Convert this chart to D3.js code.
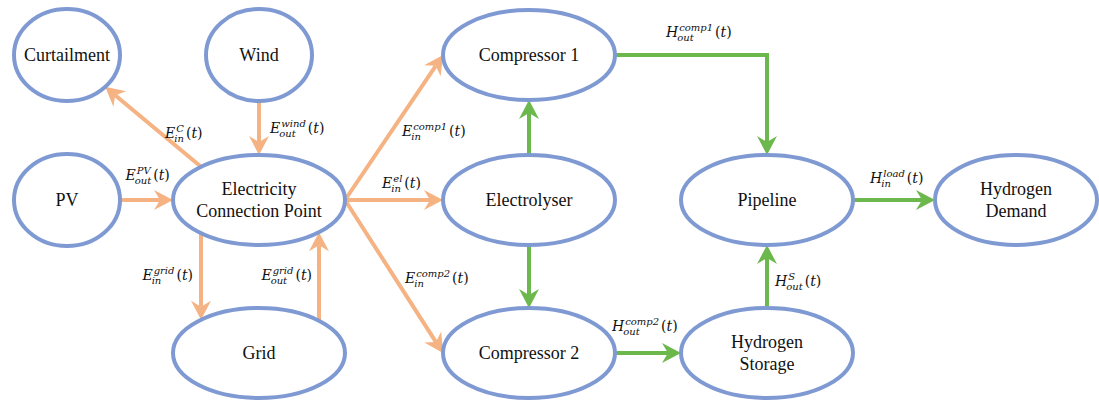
<!DOCTYPE html>
<html>
<head>
<meta charset="utf-8">
<script src="https://cdn.jsdelivr.net/npm/d3@7/dist/d3.min.js"></script>
<style>
#flow .nlabel { font-family: 'Times New Roman'; font-size: 18px; }
#flow .mlabel { font-family: 'DejaVu Serif'; }
</style>
</head>
<body style="margin:0">
<svg id="flow" width="1099" height="401"></svg>
<script>
// ========== DATA ==========
var nodeIds = ['curt', 'wind', 'pv', 'ecp', 'grid', 'comp1', 'elec', 'comp2', 'pipe', 'store', 'demand'];
var nodeLabels = [
	['Curtailment'], ['Wind'], ['PV'], ['Electricity', 'Connection Point'], ['Grid'],
	['Compressor 1'], ['Electrolyser'], ['Compressor 2'],
	['Pipeline'], ['Hydrogen', 'Storage'], ['Hydrogen', 'Demand']
];
var nodeCols = [0, 1, 0, 1, 1, 2, 2, 2, 3, 3, 4];
var nodeRows = [0, 0, 1, 1, 2, 0, 1, 2, 1, 2, 1];

var edgeFrom = ['ecp', 'wind', 'pv', 'ecp', 'grid', 'ecp', 'ecp', 'ecp', 'elec', 'elec', 'comp1', 'comp2', 'store', 'pipe'];
var edgeTo = ['curt', 'ecp', 'ecp', 'grid', 'ecp', 'comp1', 'elec', 'comp2', 'comp1', 'comp2', 'pipe', 'store', 'pipe', 'demand'];
var edgeCarrier = ['E', 'E', 'E', 'E', 'E', 'E', 'E', 'E', 'H', 'H', 'H', 'H', 'H', 'H'];
var edgeSub = ['in', 'out', 'out', 'in', 'out', 'in', 'in', 'in', '', '', 'out', 'out', 'out', 'in'];
var edgeSup = ['C', 'wind', 'PV', 'grid', 'grid', 'comp1', 'el', 'comp2', '', '', 'comp1', 'comp2', 'S', 'load'];

// ========== STYLE / LAYOUT ==========
var nodeStroke = '#7f9ad3';
var carrierColor = { E: '#f5b383', H: '#6cb84c' };
var lineWidth = 4;

var colX = d3.scaleOrdinal().domain([0, 1, 2, 3, 4]).range([67, 259, 529, 767, 1016]);
var rowY = d3.scaleOrdinal().domain([0, 1, 2]).range([55, 200, 353]);

// ports: side + offset along the ellipse
var portFrom = ['t-58', 'b', 'r', 'b-58', 't+60', 'r', 'r', 'r', 't', 'b', 'r', 'r', 't', 'r'];
var portTo = ['auto', 't', 'l', 't-58', 'b+60', 'l', 'l', 'l', 'b', 't', 't', 'l', 'b', 'l'];
// label offset from edge midpoint, and anchor
var labelDx = [12, 11, -21, -8, -7, 8, -12, 11, 0, 0, -25, -36, 8, -24];
var labelDy = [11, 5, -20, 3, 3, 8, -12, 6, 0, 0, -18, -22, 9, -17];
var labelEnd = [false, false, false, true, true, false, false, false, false, false, false, false, false, false];

var nodes = nodeIds.map(function(id, i) {
	var small = nodeCols[i] === 0 || id === 'wind';
	return {
		id: id,
		lines: nodeLabels[i],
		cx: colX(nodeCols[i]),
		cy: rowY(nodeRows[i]),
		rx: small ? 53 : (id === 'demand' ? 81 : 86),
		ry: small ? 46 : 45
	};
});
var byId = {};
nodes.forEach(function(n) { byId[n.id] = n; });

var svg = d3.select('#flow');

function portPoint(n, spec) {
	var side = spec.charAt(0);
	var off = spec.length > 1 ? +spec.slice(1) : 0;
	if (side === 'l') return [n.cx - n.rx, n.cy];
	if (side === 'r') return [n.cx + n.rx, n.cy];
	var dy = n.ry * Math.sqrt(1 - Math.pow(off / n.rx, 2));
	if (side === 't') return [n.cx + off, n.cy - dy];
	return [n.cx + off, n.cy + dy];
}

// point on ellipse along the line from its centre toward p
function towards(n, p) {
	var dx = p[0] - n.cx, dy = p[1] - n.cy;
	var t = 1 / Math.sqrt(Math.pow(dx / n.rx, 2) + Math.pow(dy / n.ry, 2));
	return [n.cx + dx * t, n.cy + dy * t];
}

var edges = edgeFrom.map(function(f, i) {
	var a = byId[f], b = byId[edgeTo[i]];
	var p0 = portPoint(a, portFrom[i]);
	var p1 = portTo[i] === 'auto' ? towards(b, p0) : portPoint(b, portTo[i]);
	var pts = [p0];
	// right side into a top port -> elbow
	if (portFrom[i] === 'r' && portTo[i] === 't') pts.push([p1[0], p0[1]]);
	pts.push(p1);
	return { i: i, pts: pts, color: carrierColor[edgeCarrier[i]] };
});

// ========== EDGES ==========
var arrowLen = 19;
var line = d3.line();

edges.forEach(function(e) {
	var n = e.pts.length;
	var a = e.pts[n - 2], b = e.pts[n - 1];
	var ang = Math.atan2(b[1] - a[1], b[0] - a[0]);
	var trimmed = e.pts.slice(0, n - 1);
	trimmed.push([b[0] - Math.cos(ang) * (arrowLen - 6), b[1] - Math.sin(ang) * (arrowLen - 6)]);

	svg.append('path')
		.attr('d', line(trimmed))
		.attr('fill', 'none')
		.attr('stroke', e.color)
		.attr('stroke-width', lineWidth);

	svg.append('path')
		.attr('d', 'M0,0 L' + (-arrowLen) + ',-10 L' + (-arrowLen + 6) + ',0 L' + (-arrowLen) + ',10 Z')
		.attr('fill', e.color)
		.attr('transform', 'translate(' + b[0] + ',' + b[1] + ')rotate(' + (ang * 180 / Math.PI) + ')');
});

// ========== NODES ==========
svg.selectAll('ellipse')
	.data(nodes).enter().append('ellipse')
	.attr('cx', function(d) { return d.cx; })
	.attr('cy', function(d) { return d.cy; })
	.attr('rx', function(d) { return d.rx; })
	.attr('ry', function(d) { return d.ry; })
	.attr('fill', '#ffffff')
	.attr('stroke', nodeStroke)
	.attr('stroke-width', lineWidth);

var nodeText = [];
nodes.forEach(function(d) {
	var lh = 22;
	var y0 = d.cy + 6 - (d.lines.length - 1) * lh / 2;
	d.lines.forEach(function(t, k) {
		nodeText.push({ x: d.cx, y: y0 + k * lh, t: t });
	});
});

svg.selectAll('.nlabel')
	.data(nodeText).enter().append('text')
	.attr('class', 'nlabel')
	.attr('x', function(d) { return d.x; })
	.attr('y', function(d) { return d.y; })
	.attr('text-anchor', 'middle')
	.attr('fill', '#111111')
	.text(function(d) { return d.t; });

// ========== FLOW LABELS ==========
var ctx = document.createElement('canvas').getContext('2d');
function measure(txt, size, italic) {
	ctx.font = (italic ? 'italic ' : '') + size + "px 'DejaVu Serif'";
	return ctx.measureText(txt).width;
}

var pieces = [];
edges.forEach(function(e) {
	var i = e.i;
	if (!edgeSup[i]) return;
	var a = e.pts[0], b = e.pts[1];
	var mx = (a[0] + b[0]) / 2 + labelDx[i];
	var my = (a[1] + b[1]) / 2 + labelDy[i];

	var w = measure(edgeCarrier[i], 14, true);
	var sw = Math.max(measure(edgeSup[i], 10, true) + 1, measure(edgeSub[i], 10, true) - 1);
	var lp = measure('(', 14, false), tw = measure('t', 14, true);
	var total = w + sw + 2 + lp * 2 + tw;
	var x0 = labelEnd[i] ? mx - total : mx;
	var px = x0 + w + sw + 2;

	pieces.push({ x: x0, y: my, size: 14, it: true, t: edgeCarrier[i] });
	pieces.push({ x: x0 + w + 1, y: my - 6, size: 10, it: true, t: edgeSup[i] });
	pieces.push({ x: x0 + w - 1, y: my + 4, size: 10, it: true, t: edgeSub[i] });
	pieces.push({ x: px, y: my, size: 14, it: false, t: '(' });
	pieces.push({ x: px + lp, y: my, size: 14, it: true, t: 't' });
	pieces.push({ x: px + lp + tw, y: my, size: 14, it: false, t: ')' });
});

svg.selectAll('.mlabel')
	.data(pieces).enter().append('text')
	.attr('class', 'mlabel')
	.attr('x', function(d) { return d.x; })
	.attr('y', function(d) { return d.y; })
	.attr('fill', '#111111')
	.style('font-style', function(d) { return d.it ? 'italic' : 'normal'; })
	.style('font-size', function(d) { return d.size + 'px'; })
	.text(function(d) { return d.t; });
</script>
</body>
</html>
